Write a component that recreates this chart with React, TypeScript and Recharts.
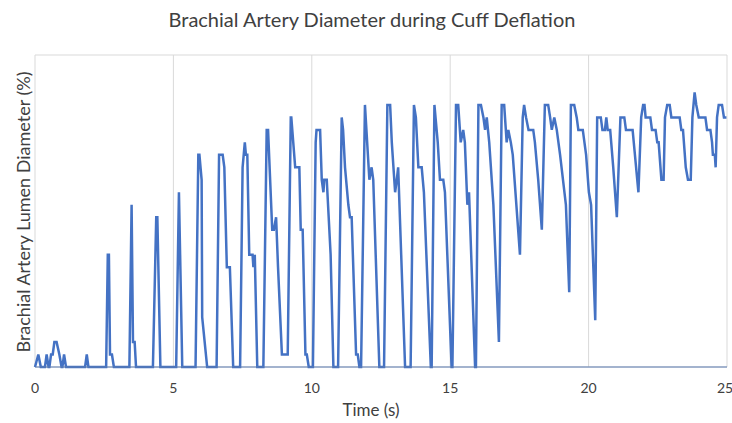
import React from 'react';
import { LineChart, Line, XAxis, YAxis, CartesianGrid } from 'recharts';

// time in seconds
const times = [
  0.0, 0.12, 0.21, 0.36, 0.42, 0.49, 0.52, 0.58, 0.64, 0.7, 0.78, 0.88, 0.96, 0.99, 1.05, 1.12,
  1.81, 1.87, 1.93, 2.57, 2.63, 2.67, 2.71, 2.78, 2.85, 3.41, 3.49, 3.54, 3.6, 3.65,
  4.26, 4.38, 4.42, 4.53, 5.1, 5.2, 5.32, 5.8, 5.9, 5.94, 6.02, 6.04, 6.22,
  6.56, 6.65, 6.78, 6.84, 6.93, 7.04, 7.16, 7.41, 7.5, 7.58, 7.62, 7.67, 7.74, 7.86, 7.89, 7.94, 8.03,
  8.25, 8.37, 8.42, 8.57, 8.63, 8.71, 8.78, 8.92, 9.13, 9.24, 9.26, 9.4, 9.55, 9.6, 9.67, 9.77, 9.82, 9.89,
  10.04, 10.14, 10.17, 10.3, 10.36, 10.42, 10.45, 10.54, 10.68, 10.78,
  10.95, 11.08, 11.13, 11.2, 11.32, 11.38, 11.44, 11.6, 11.66, 11.72,
  11.78, 11.92, 12.08, 12.16, 12.22, 12.44, 12.61, 12.73, 12.83, 12.89, 13.01, 13.07, 13.12, 13.37,
  13.57, 13.69, 13.76, 13.85, 13.97, 14.05, 14.3, 14.33, 14.43, 14.55, 14.63, 14.75, 14.81, 15.05,
  15.08, 15.21, 15.29, 15.38, 15.47, 15.53, 15.62, 15.68, 15.9,
  15.93, 16.02, 16.11, 16.2, 16.26, 16.32, 16.41, 16.56, 16.76,
  16.86, 16.95, 17.04, 17.1, 17.19, 17.26, 17.52,
  17.62, 17.67, 17.74, 17.83, 18.0, 18.06, 18.18, 18.31,
  18.42, 18.54, 18.61, 18.67, 18.76, 18.85, 18.97, 19.18, 19.3,
  19.36, 19.48, 19.57, 19.63, 19.79, 19.91, 20.01, 20.09, 20.24,
  20.31, 20.44, 20.5, 20.59, 20.64, 20.69, 20.78, 20.89, 21.02,
  21.15, 21.29, 21.35, 21.59, 21.8,
  21.9, 21.97, 22.02, 22.06, 22.23, 22.29, 22.42, 22.48, 22.53, 22.63, 22.71,
  22.76, 22.84, 22.93, 22.99, 23.29, 23.35, 23.41, 23.51, 23.59, 23.69,
  23.75, 23.83, 23.89, 23.98, 24.22, 24.28, 24.4, 24.46, 24.49, 24.56, 24.59,
  24.64, 24.7, 24.82, 24.89, 24.98,
];

// lumen diameter (%)
const diameters = [
  0, 4, 0, 0, 4, 0, 0, 4, 4, 8, 8, 4, 0, 0, 4, 0,
  0, 4, 0, 0, 36, 36, 4, 4, 0, 0, 52, 8, 8, 0,
  0, 48, 48, 0, 0, 56, 0, 0, 68, 68, 60, 16, 0,
  0, 68, 68, 64, 32, 32, 0, 0, 64, 72, 68, 68, 36, 36, 32, 36, 0,
  0, 76, 76, 44, 44, 48, 32, 4, 4, 80, 80, 64, 64, 44, 44, 4, 4, 0,
  0, 72, 76, 76, 60, 56, 60, 60, 36, 0,
  0, 80, 76, 64, 52, 48, 48, 4, 4, 0,
  0, 84, 60, 64, 60, 0, 0, 84, 84, 72, 56, 60, 64, 0,
  0, 84, 80, 64, 64, 56, 0, 0, 84, 72, 60, 60, 56, 0,
  0, 84, 84, 72, 76, 72, 52, 56, 0,
  0, 84, 84, 80, 76, 80, 72, 52, 8,
  84, 84, 72, 76, 72, 68, 36,
  80, 84, 80, 76, 76, 72, 60, 44,
  84, 84, 80, 76, 80, 76, 68, 52, 24,
  84, 84, 80, 76, 76, 68, 56, 52, 15,
  80, 80, 76, 76, 80, 76, 76, 64, 48,
  80, 80, 76, 76, 56,
  80, 84, 84, 80, 80, 76, 76, 72, 72, 60, 60,
  80, 84, 84, 80, 80, 76, 76, 64, 60, 60,
  80, 88, 84, 80, 80, 76, 76, 72, 68, 68, 64,
  80, 84, 84, 80, 80,
];

const xTicks = [0, 5, 10, 15, 20, 25];
const yTicks = [0, 20, 40, 60, 80, 100];

const title = 'Brachial Artery Diameter during Cuff Deflation';
const xLabel = 'Time (s)';
const yLabel = 'Brachial Artery Lumen Diameter (%)';

const data = times.map((t, i) => ({ t, d: diameters[i] }));

const font = 'Lato, "Open Sans", sans-serif';
const textColor = '#404040';

export default function App() {
  return (
    <div style={{ position: 'absolute', left: 0, top: 0, width: 732, height: 423, background: '#fff', fontFamily: font }}>
      <div style={{ position: 'absolute', top: 7, left: 6, width: 732, textAlign: 'center', fontSize: 20, color: textColor }}>
        {title}
      </div>
      <div
        style={{
          position: 'absolute',
          left: 23 - 160,
          top: 212 - 12,
          width: 320,
          height: 24,
          lineHeight: '24px',
          textAlign: 'center',
          fontSize: 18,
          color: textColor,
          transform: 'rotate(-90deg)',
          whiteSpace: 'nowrap',
        }}
      >
        {yLabel}
      </div>
      <div style={{ position: 'absolute', top: 399, left: 15, width: 712, textAlign: 'center', fontSize: 17, color: textColor }}>
        {xLabel}
      </div>
      <LineChart width={732} height={423} data={data} margin={{ top: 55, right: 5, bottom: 26, left: 35 }}>
        <CartesianGrid stroke="#d9d9d9" strokeWidth={1} />
        <XAxis
          dataKey="t"
          type="number"
          domain={[0, 25]}
          ticks={xTicks}
          height={30}
          tickLine={false}
          tickSize={0}
          tickMargin={16}
          axisLine={{ stroke: '#5a7bb0' }}
          tick={{ fill: textColor, fontSize: 14, fontFamily: font }}
        />
        <YAxis
          type="number"
          domain={[0, 100]}
          ticks={yTicks}
          width={0}
          tick={false}
          tickLine={false}
          axisLine={{ stroke: '#5a7bb0' }}
        />
        <Line
          type="linear"
          dataKey="d"
          stroke="#4472c4"
          strokeWidth={2.5}
          dot={false}
          isAnimationActive={false}
        />
      </LineChart>
    </div>
  );
}
